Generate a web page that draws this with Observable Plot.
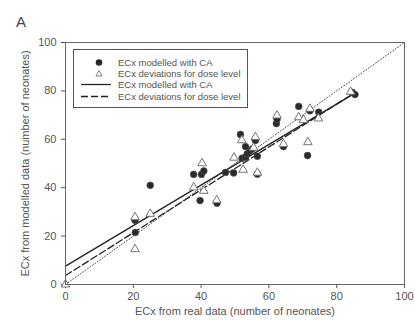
<!DOCTYPE html>
<html><head><meta charset="utf-8">
<script src="https://cdn.jsdelivr.net/npm/d3@7"></script>
<script src="https://cdn.jsdelivr.net/npm/@observablehq/plot@0.6"></script>
<style>
body{margin:0;background:#fff;}
#wrap{position:relative;width:415px;height:320px;font-family:"Liberation Sans",Arial,sans-serif;color:#555;}
#panel{position:absolute;left:16px;top:13px;font-size:15px;color:#444;}
#legend{position:absolute;left:73px;top:49px;width:175px;height:59px;border:1px solid #555;box-sizing:border-box;background:#fff;}
#legend .row{position:absolute;left:0;height:11px;font-size:9.5px;line-height:11px;white-space:nowrap;color:#555;}
#legend svg{position:absolute;left:0;top:0;}
#legend span{position:absolute;left:44px;top:0;}
</style>
</head><body><div id="wrap"><div id="panel">A</div></div>
<script>
// ECx modelled with CA (filled circles)
const caX = [20.6, 20.5, 25.0, 37.8, 40.1, 40.8, 39.7, 44.7, 47.2, 49.6, 52.1, 53.1, 53.6, 54.4, 55.1, 53.1, 51.6, 56.0, 56.6, 56.6, 62.2, 62.4, 64.3, 68.8, 72.1, 74.7, 71.4, 84.6, 85.4];
const caY = [21.5, 26.5, 41.0, 45.5, 45.5, 46.9, 34.7, 33.6, 46.3, 46.1, 52.2, 52.6, 54.0, 55.3, 56.0, 57.0, 62.0, 59.5, 53.0, 45.6, 66.5, 68.3, 57.0, 73.6, 71.8, 71.2, 53.3, 79.4, 78.5];
// ECx deviations for dose level (open triangles)
const devX = [0, 20.5, 20.5, 25.0, 37.8, 40.3, 40.8, 44.6, 49.7, 52.4, 52.0, 56.0, 56.6, 62.4, 64.3, 68.8, 70.2, 72.1, 74.6, 71.5, 84.1, 55.5];
const devY = [0, 27.8, 14.6, 29.2, 40.1, 50.1, 38.7, 34.8, 52.4, 47.4, 59.6, 60.9, 46.2, 69.8, 58.0, 69.1, 68.0, 72.6, 68.6, 58.8, 79.6, 56.5];
// regression lines (end points) and 1:1 line
const fitX = [0, 85.5];
const caFitY = [7.6, 79.2];
const devFitY = [3.7, 79.4];
const identityXY = [0, 100];
const ticks = [0, 20, 40, 60, 80, 100];
const legendLabels = ["ECx modelled with CA", "ECx deviations for dose level", "ECx modelled with CA", "ECx deviations for dose level"];

const ca = caX.map((x, i) => ({x, y: caY[i]}));
const dev = devX.map((x, i) => ({x, y: devY[i]}));
const caFit = fitX.map((x, i) => ({x, y: caFitY[i]}));
const devFit = fitX.map((x, i) => ({x, y: devFitY[i]}));
const ident = identityXY.map(v => ({x: v, y: v}));

const plot = Plot.plot({
  width: 415, height: 320,
  marginLeft: 65, marginRight: 11, marginTop: 42, marginBottom: 36,
  x: {domain: [0, 100]},
  y: {domain: [0, 100]},
  style: {fontSize: "11px", fontFamily: "'Liberation Sans', Arial, sans-serif", color: "#555", background: "transparent"},
  marks: [
    Plot.axisX({ticks, tickSize: 4, tickPadding: 4, stroke: "#555", label: "ECx from real data (number of neonates)", labelAnchor: "center", labelArrow: "none", labelOffset: 30}),
    Plot.axisY({ticks, tickSize: 4, tickPadding: 5, stroke: "#555", label: "ECx from modelled data (number of neonates)", labelAnchor: "center", labelArrow: "none", labelOffset: 44}),
    Plot.line(ident, {x: "x", y: "y", stroke: "#222", strokeWidth: 0.8, strokeDasharray: "1,2"}),
    Plot.line(caFit, {x: "x", y: "y", stroke: "#222", strokeWidth: 1.3}),
    Plot.line(devFit, {x: "x", y: "y", stroke: "#222", strokeWidth: 1.3, strokeDasharray: "7,3"}),
    Plot.dot(ca, {x: "x", y: "y", r: 3.4, fill: "#2a2a2a", stroke: "#555", strokeWidth: 0.6}),
    Plot.dot(dev, {x: "x", y: "y", symbol: "triangle", r: 3.2, fill: "#fff", stroke: "#666", strokeWidth: 0.9}),
    Plot.frame({stroke: "#666", strokeWidth: 1})
  ]
});
const wrap = document.getElementById("wrap");
wrap.insertBefore(plot, wrap.firstChild);

// legend
const legend = document.createElement("div");
legend.id = "legend";
const rowTops = [7, 18, 29, 41];
const symbols = [
  '<circle cx="25" cy="5.5" r="3.3" fill="#2a2a2a"/>',
  '<path d="M25,2.5 L28,8 L22,8 Z" fill="#fff" stroke="#666" stroke-width="0.8"/>',
  '<line x1="7" y1="5.5" x2="37" y2="5.5" stroke="#222" stroke-width="1.3"/>',
  '<line x1="7" y1="5.5" x2="37" y2="5.5" stroke="#222" stroke-width="1.3" stroke-dasharray="7,3"/>'
];
legendLabels.forEach((t, i) => {
  const row = document.createElement("div");
  row.className = "row";
  row.style.top = rowTops[i] + "px";
  row.innerHTML = '<svg width="44" height="11">' + symbols[i] + '</svg><span>' + t + '</span>';
  legend.appendChild(row);
});
wrap.appendChild(legend);
</script>
</body></html>
